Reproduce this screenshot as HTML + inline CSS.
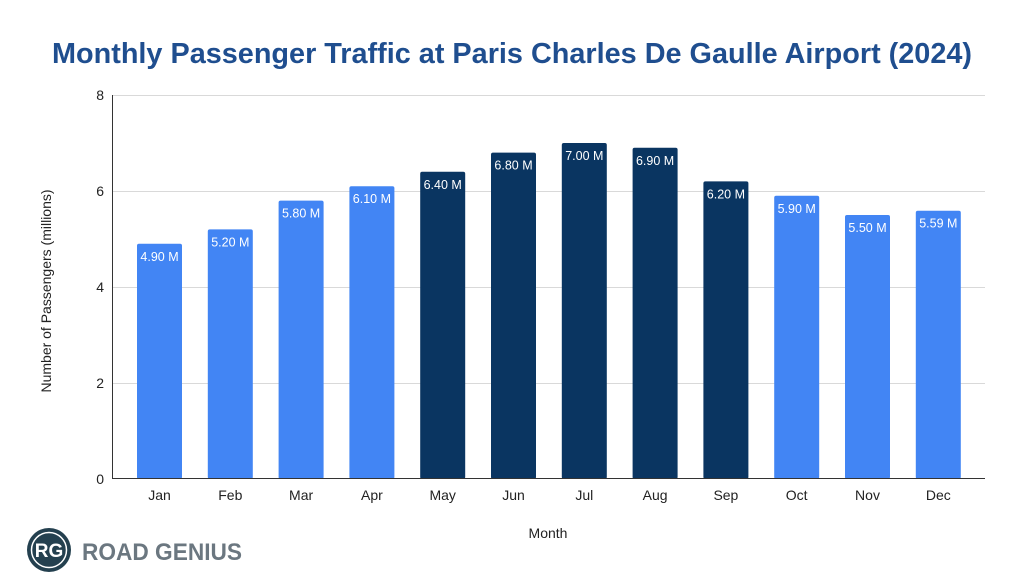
<!DOCTYPE html>
<html><head><meta charset="utf-8"><style>
html,body{margin:0;padding:0;background:#fff;}
svg{display:block;font-family:"Liberation Sans",Arial,sans-serif;}
</style></head><body>
<svg width="1024" height="582" viewBox="0 0 1024 582" xmlns="http://www.w3.org/2000/svg">
<rect width="1024" height="582" fill="#fff"/>
<text x="512" y="63" text-anchor="middle" font-size="29" font-weight="bold" fill="#1f4e8f" textLength="920" lengthAdjust="spacingAndGlyphs">Monthly Passenger Traffic at Paris Charles De Gaulle Airport (2024)</text>
<g stroke="#d9d9d9" stroke-width="1">
<line x1="112" y1="95.5" x2="985" y2="95.5"/>
<line x1="112" y1="191.5" x2="985" y2="191.5"/>
<line x1="112" y1="287.5" x2="985" y2="287.5"/>
<line x1="112" y1="383.5" x2="985" y2="383.5"/>
</g>
<g font-size="14" fill="#222" text-anchor="end">
<text x="104" y="100">8</text><text x="104" y="196">6</text><text x="104" y="292">4</text><text x="104" y="388">2</text><text x="104" y="484">0</text>
</g>
<g>
<rect x="137" y="243.8" width="45" height="235.2" rx="2" fill="#4285f4"/>
<rect x="207.8" y="229.4" width="45" height="249.6" rx="2" fill="#4285f4"/>
<rect x="278.6" y="200.6" width="45" height="278.4" rx="2" fill="#4285f4"/>
<rect x="349.4" y="186.2" width="45" height="292.8" rx="2" fill="#4285f4"/>
<rect x="420.2" y="171.8" width="45" height="307.2" rx="2" fill="#0a3561"/>
<rect x="491" y="152.6" width="45" height="326.4" rx="2" fill="#0a3561"/>
<rect x="561.8" y="143" width="45" height="336" rx="2" fill="#0a3561"/>
<rect x="632.6" y="147.8" width="45" height="331.2" rx="2" fill="#0a3561"/>
<rect x="703.4" y="181.4" width="45" height="297.6" rx="2" fill="#0a3561"/>
<rect x="774.2" y="195.8" width="45" height="283.2" rx="2" fill="#4285f4"/>
<rect x="845" y="215" width="45" height="264" rx="2" fill="#4285f4"/>
<rect x="915.8" y="210.7" width="45" height="268.3" rx="2" fill="#4285f4"/>
</g>
<g font-size="12.5" fill="#fff" text-anchor="middle">
<text x="159.5" y="260.8">4.90 M</text>
<text x="230.3" y="246.4">5.20 M</text>
<text x="301.1" y="217.6">5.80 M</text>
<text x="371.9" y="203.2">6.10 M</text>
<text x="442.7" y="188.8">6.40 M</text>
<text x="513.5" y="169.6">6.80 M</text>
<text x="584.3" y="160">7.00 M</text>
<text x="655.1" y="164.8">6.90 M</text>
<text x="725.9" y="198.4">6.20 M</text>
<text x="796.7" y="212.8">5.90 M</text>
<text x="867.5" y="232">5.50 M</text>
<text x="938.3" y="227.7">5.59 M</text>
</g>
<g font-size="14" fill="#222" text-anchor="middle">
<text x="159.5" y="500">Jan</text>
<text x="230.3" y="500">Feb</text>
<text x="301.1" y="500">Mar</text>
<text x="371.9" y="500">Apr</text>
<text x="442.7" y="500">May</text>
<text x="513.5" y="500">Jun</text>
<text x="584.3" y="500">Jul</text>
<text x="655.1" y="500">Aug</text>
<text x="725.9" y="500">Sep</text>
<text x="796.7" y="500">Oct</text>
<text x="867.5" y="500">Nov</text>
<text x="938.3" y="500">Dec</text>
</g>
<line x1="112.5" y1="95" x2="112.5" y2="479" stroke="#333" stroke-width="1"/>
<line x1="112" y1="478.5" x2="985" y2="478.5" stroke="#333" stroke-width="1"/>
<text x="548" y="538" text-anchor="middle" font-size="14" fill="#222">Month</text>
<text transform="translate(51,291) rotate(-90)" text-anchor="middle" font-size="14" fill="#222">Number of Passengers (millions)</text>
<circle cx="49" cy="550" r="22" fill="#24404f"/>
<circle cx="49" cy="550" r="17.5" fill="none" stroke="#fff" stroke-width="1.5"/>
<text x="49" y="557" text-anchor="middle" font-size="19" font-weight="bold" fill="#fff">RG</text>
<text x="82" y="560" font-size="24" font-weight="bold" fill="#6b7780" textLength="160" lengthAdjust="spacingAndGlyphs">ROAD GENIUS</text>
</svg>
</body></html>
